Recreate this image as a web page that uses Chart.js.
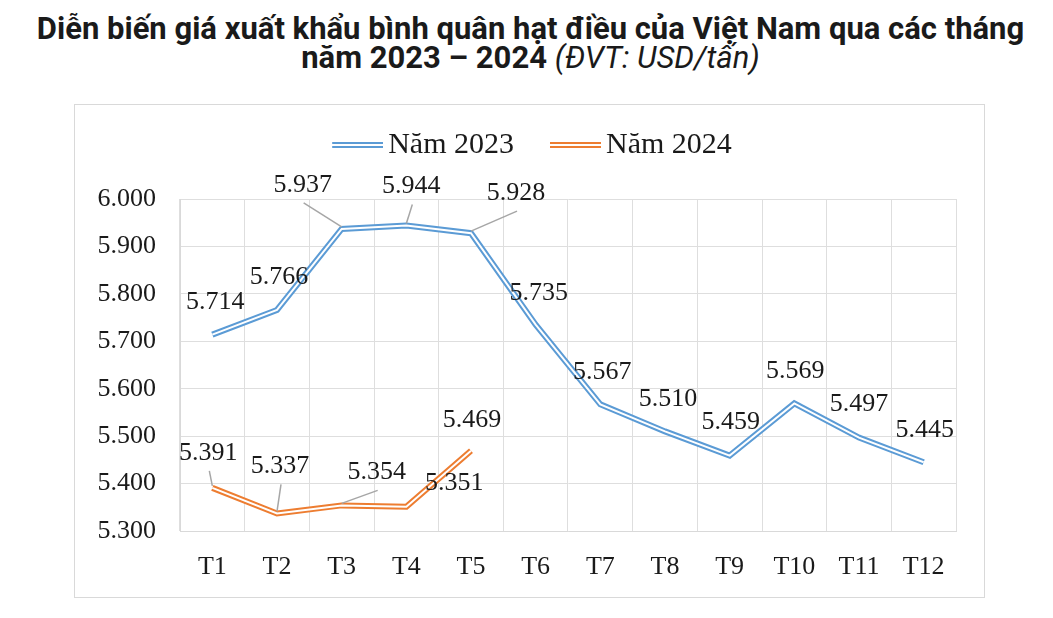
<!DOCTYPE html>
<html><head><meta charset="utf-8">
<script src="https://cdn.jsdelivr.net/npm/chart.js@4.4.0/dist/chart.umd.min.js"></script>
<style>
html,body{margin:0;padding:0;background:#fff;width:1053px;height:618px;overflow:hidden}
#title{position:absolute;left:4px;top:14px;width:1053px;text-align:center;font-family:Roboto,"Noto Sans",sans-serif;font-weight:700;font-size:31px;line-height:29px;color:#1a1a1a;white-space:nowrap}
#title i{font-weight:400}
#box{position:absolute;left:74px;top:104px;width:911px;height:494px;border:1px solid #d9d9d9;box-sizing:border-box}
#box canvas{display:block}
</style></head><body>
<div id="title">Diễn biến giá xuất khẩu bình quân hạt điều của Việt Nam qua các tháng<br>năm 2023 – 2024 <i>(ĐVT: USD/tấn)</i></div>
<div id="box"><canvas id="c" width="909" height="492"></canvas></div>
<script>
const months = ['T1','T2','T3','T4','T5','T6','T7','T8','T9','T10','T11','T12'];
const seriesNames = ['Năm 2023','Năm 2024'];
const values2023 = [5714,5766,5937,5944,5928,5735,5567,5510,5459,5569,5497,5445];
const values2024 = [5391,5337,5354,5351,5469];
const yTickValues = [5300,5400,5500,5600,5700,5800,5900,6000];

// label placement styles: [dx, dy, leader]
const labelPos2023 = [[3,-32],[2,-33],[-39,-44,1],[5,-39,1],[45,-40,1],[3,-32],[2,-32],[3,-32],[1,-33],[1,-32],[0,-33],[1,-32]];
const labelPos2024 = [[-4,-35,1],[3,-47,1],[35,-33,1],[48,-24],[1,-31]];

const BLUE = '#5b9bd5', ORANGE = '#ed7d31';
const SERIF = '"Liberation Serif","Times New Roman",serif';

function fmt(n){ return String(n).replace(/\B(?=(\d{3})+(?!\d))/g,'.'); }

function sample(color){
  const c = document.createElement('canvas');
  c.width = 87; c.height = 10;
  const g = c.getContext('2d');
  g.fillStyle = color; g.fillRect(36,2,51,6);
  g.fillStyle = '#fff'; g.fillRect(36,4,51,2);
  return c;
}

const labelPlugin = {
  id:'valueLabels',
  afterDatasetsDraw(chart){
    const ctx = chart.ctx;
    ctx.save();
    ctx.font = '26px ' + SERIF;
    ctx.textAlign = 'center';
    ctx.textBaseline = 'middle';
    [[0,values2023,labelPos2023],[1,values2024,labelPos2024]].forEach(([di,vals,pos])=>{
      const meta = chart.getDatasetMeta(di);
      meta.data.forEach((pt,i)=>{
        const p = pos[i];
        const lx = pt.x + p[0], ly = pt.y + p[1];
        if (p[2]) {
          ctx.strokeStyle = '#a6a6a6'; ctx.lineWidth = 1.5;
          ctx.beginPath(); ctx.moveTo(lx + 1, ly + 18); ctx.lineTo(pt.x, pt.y - 2); ctx.stroke();
        }
        ctx.fillStyle = '#1a1a1a';
        ctx.fillText(fmt(vals[i]), lx, ly);
      });
    });
    ctx.restore();
  }
};

const common = {fill:false, tension:0, pointRadius:0, pointHoverRadius:0, borderJoinStyle:'miter', borderCapStyle:'butt'};

new Chart(document.getElementById('c'), {
  type:'line',
  data:{
    labels: months,
    datasets:[
      Object.assign({label:seriesNames[0], data:values2023, borderColor:BLUE, backgroundColor:BLUE, borderWidth:6, order:4, pointStyle:sample(BLUE)}, common),
      Object.assign({label:seriesNames[1], data:values2024, borderColor:ORANGE, backgroundColor:ORANGE, borderWidth:6, order:2, pointStyle:sample(ORANGE)}, common),
      Object.assign({label:'_w1', data:values2023, borderColor:'#ffffff', borderWidth:2, order:3}, common),
      Object.assign({label:'_w2', data:values2024, borderColor:'#ffffff', borderWidth:2, order:1}, common)
    ]
  },
  options:{
    responsive:false,
    animation:false,
    events:[],
    layout:{padding:{top:15,left:7,right:28,bottom:0}},
    plugins:{
      legend:{
        position:'top',
        labels:{
          usePointStyle:true, pointStyleWidth:67, padding:10,
          color:'#1a1a1a', font:{family:SERIF, size:30},
          filter:(item)=> item.datasetIndex < 2,
          sort:(a,b)=> a.datasetIndex - b.datasetIndex
        }
      },
      subtitle:{display:true, text:' ', weight:1, font:{size:10, lineHeight:1}, padding:{top:19,bottom:0}},
      tooltip:{enabled:false}
    },
    scales:{
      x:{
        offset:true,
        grid:{offset:true, color:'#dedede', drawTicks:false},
        border:{color:'#d9d9d9'},
        ticks:{color:'#1a1a1a', font:{family:SERIF, size:26}, padding:21, maxRotation:0, autoSkip:false},
        afterFit:(s)=>{ s.height = 66; }
      },
      y:{
        min:yTickValues[0], max:yTickValues[yTickValues.length-1],
        grid:{color:'#dedede', drawTicks:false},
        border:{color:'#d9d9d9'},
        afterBuildTicks:(s)=>{ s.ticks = yTickValues.map(v=>({value:v})); },
        ticks:{color:'#1a1a1a', font:{family:SERIF, size:26}, padding:24, callback:(v)=>fmt(v)},
        afterFit:(s)=>{ s.width = 98; }
      }
    }
  },
  plugins:[labelPlugin]
});
</script>
</body></html>
